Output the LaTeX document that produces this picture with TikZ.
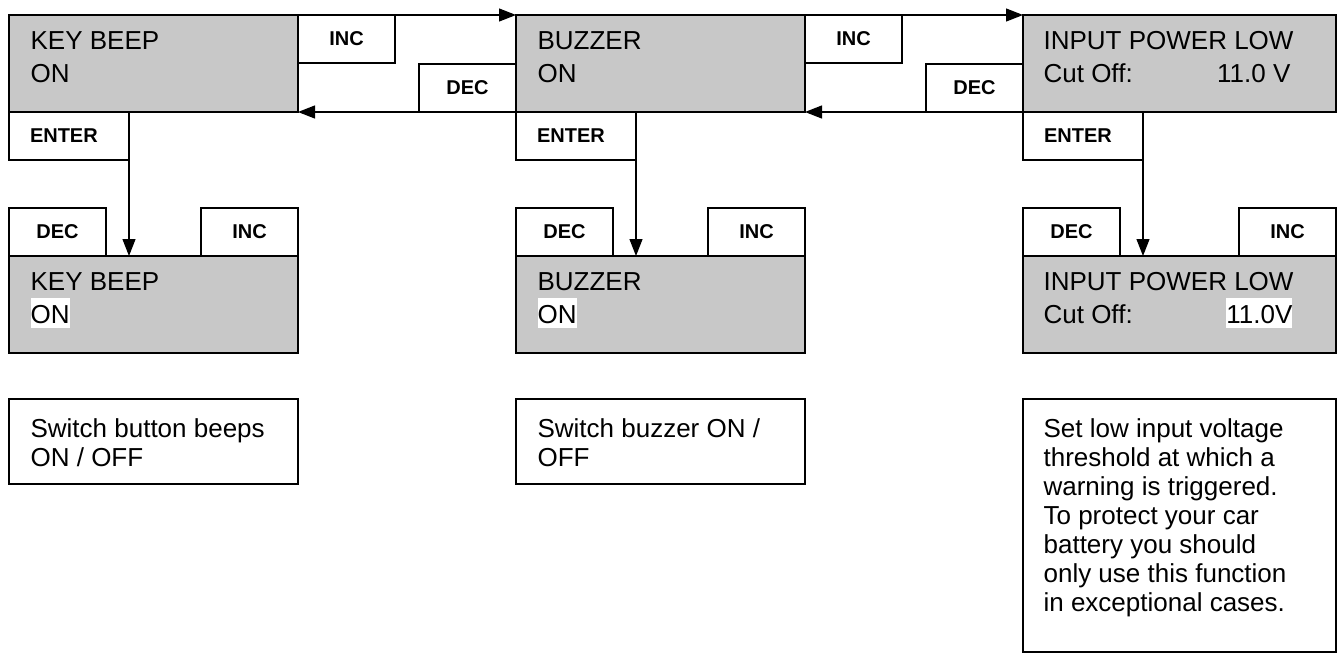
\documentclass[tikz,border=0pt]{standalone}
\usepackage{fontspec}
\setmainfont{Liberation Sans}
\usetikzlibrary{arrows.meta}
\definecolor{lcdgrey}{RGB}{200,200,200}

\begin{document}
\begin{tikzpicture}[x=1pt, y=-1pt, >={Triangle[length=17pt,width=13pt]}, line width=1.2pt,
  lcd/.style={draw, fill=lcdgrey, anchor=north west, minimum height=97pt, inner sep=0pt, outer sep=0pt},
  btn/.style={draw, fill=white, anchor=north west, minimum width=97pt, minimum height=48pt, inner sep=0pt, outer sep=0pt, font=\fontsize{20}{24}\selectfont\bfseries},
  enter/.style={btn, minimum width=120pt, text width=78pt, inner xsep=21pt, align=left},
  txt/.style={anchor=base west, inner sep=0pt, font=\fontsize{26}{33}\selectfont},
  sel/.style={txt, fill=white, text height=25pt, text depth=5pt},
  note/.style={draw, anchor=north west, inner sep=0pt, outer sep=0pt},
  notetxt/.style={anchor=base west, inner sep=0pt, align=left, font=\fontsize{26}{29}\selectfont}]
\useasboundingbox (0,0) rectangle (1339,654);

% key beep
\node[lcd, minimum width=289pt] (kb) at (9,15) {};
\node[txt] (kbA) at (30,49) {KEY BEEP};
\node[txt] (kbB) at (30,82) {ON};
\node[btn] (kbInc) at (298,15) {INC};
\node[btn] (kbDec) at (419,64) {DEC};
\node[enter] (kbEnter) at (9,112) {ENTER};
\node[lcd, minimum width=289pt] (kbSet) at (9,256) {};
\node[txt] (kbSetA) at (30,290) {KEY BEEP};
\node[sel] (kbSetB) at (30,323) {ON};
\node[btn] (kbSetDec) at (9,208) {DEC};
\node[btn] (kbSetInc) at (201,208) {INC};
\node[note, minimum width=289pt, minimum height=85pt] (kbNote) at (9,399) {};
\node[notetxt] (kbNoteT) at (30,466) {Switch button beeps\\ON / OFF};

% buzzer
\node[lcd, minimum width=289pt] (bz) at (516,15) {};
\node[txt] (bzA) at (537,49) {BUZZER};
\node[txt] (bzB) at (537,82) {ON};
\node[btn] (bzInc) at (805,15) {INC};
\node[btn] (bzDec) at (926,64) {DEC};
\node[enter] (bzEnter) at (516,112) {ENTER};
\node[lcd, minimum width=289pt] (bzSet) at (516,256) {};
\node[txt] (bzSetA) at (537,290) {BUZZER};
\node[sel] (bzSetB) at (537,323) {ON};
\node[btn] (bzSetDec) at (516,208) {DEC};
\node[btn] (bzSetInc) at (708,208) {INC};
\node[note, minimum width=289pt, minimum height=85pt] (bzNote) at (516,399) {};
\node[notetxt] (bzNoteT) at (537,466) {Switch buzzer ON /\\OFF};

% input power low
\node[lcd, minimum width=313pt] (ip) at (1023,15) {};
\node[txt] (ipA) at (1043,49) {INPUT POWER LOW};
\node[txt] (ipB) at (1043,82) {Cut Off:};
\node[txt, anchor=base east] (ipC) at (1291,82) {11.0 V};
\node[enter] (ipEnter) at (1023,112) {ENTER};
\node[lcd, minimum width=313pt] (ipSet) at (1023,256) {};
\node[txt] (ipSetA) at (1043,290) {INPUT POWER LOW};
\node[txt] (ipSetB) at (1043,323) {Cut Off:};
\node[sel, anchor=base east] (ipSetC) at (1293,323) {11.0V};
\node[btn] (ipSetDec) at (1023,208) {DEC};
\node[btn] (ipSetInc) at (1239,208) {INC};
\node[note, minimum width=313pt, minimum height=253pt] (ipNote) at (1023,399) {};
\node[notetxt] (ipNoteT) at (1043,611) {Set low input voltage\\threshold at which a\\warning is triggered.\\To protect your car\\battery you should\\only use this function\\in exceptional cases.};

% menu steps
\draw[->] (kb.north east) -- (bz.north west);
\draw[->] (kbDec.south west) -- (kb.south east);
\draw[->] (bz.north east) -- (ip.north west);
\draw[->] (bzDec.south west) -- (bz.south east);

% enter
\draw[->] (kbEnter.south east) -- (kbEnter.south east |- kbSet.north);
\draw[->] (bzEnter.south east) -- (bzEnter.south east |- bzSet.north);
\draw[->] (ipEnter.south east) -- (ipEnter.south east |- ipSet.north);
\end{tikzpicture}
\end{document}
